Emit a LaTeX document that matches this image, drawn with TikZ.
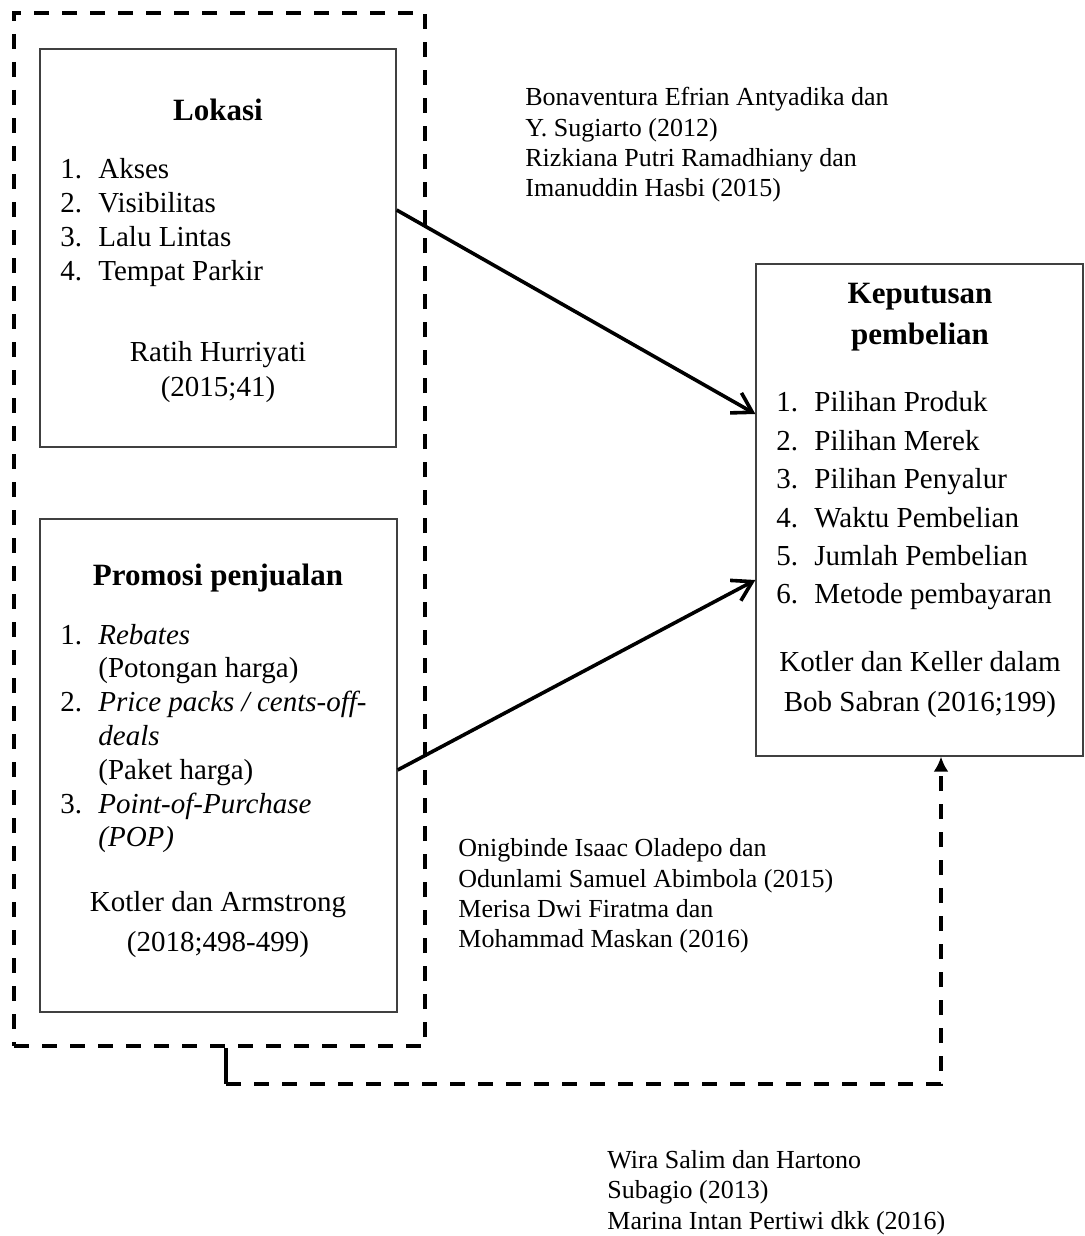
\documentclass[tikz,border=0pt]{standalone}
\usepackage{fontspec}
\setmainfont{Liberation Serif}
\usetikzlibrary{arrows.meta}

\tikzset{
  kotak/.style={draw=black!75, line width=0.65pt, inner sep=0pt},
  garis/.style={-{Straight Barb[length=9.5pt,width=11.5pt]}, line width=1.8pt},
  putus/.style={line width=2pt, dash pattern=on 7.5pt off 6.5pt},
  judul/.style={font=\fontsize{15.5}{20.5}\selectfont\bfseries, align=center, inner sep=0pt},
  isi/.style={font=\fontsize{14.5}{17}\selectfont, align=left, inner sep=0pt, anchor=west},
  sumber/.style={font=\fontsize{14.5}{20}\selectfont, align=center, inner sep=0pt},
  rujukan/.style={font=\fontsize{13}{15.2}\selectfont, align=left, inner sep=0pt, anchor=west}
}
\newcommand{\butir}[1]{\makebox[19pt][l]{#1}}

\begin{document}
\begin{tikzpicture}[x=0.5pt, y=-0.5pt]
    \useasboundingbox (0,0) rectangle (1084,1236);

    \node[kotak, putus, draw=black, minimum width=205.5pt, minimum height=516.5pt] (luar) at (219.5,529.5) {};
    \node[kotak, minimum width=178pt, minimum height=199pt] (lokasi) at (218,248) {};
    \node[kotak, minimum width=178.5pt, minimum height=246.5pt] (promosi) at (218.5,765.5) {};
    \node[kotak, minimum width=163.5pt, minimum height=246pt] (keputusan) at (919.5,510) {};

    \node[judul] (jlokasi) at (218,110) {Lokasi};
    \node[isi] (ilokasi) at (60,223) {\butir{1.}Akses\\\butir{2.}Visibilitas\\\butir{3.}Lalu Lintas\\\butir{4.}Tempat Parkir};
    \node[sumber, font=\fontsize{14.5}{17.5}\selectfont] (slokasi) at (218,372) {Ratih Hurriyati\\(2015;41)};

    \node[judul] (jpromosi) at (218,578) {Promosi penjualan};
    \node[isi, font=\fontsize{14.5}{16.9}\selectfont] (ipromosi) at (60,738.5) {\butir{1.}\textit{Rebates}\\\butir{}(Potongan harga)\\\butir{2.}\textit{Price packs / cents-off-}\\\butir{}\textit{deals}\\\butir{}(Paket harga)\\\butir{3.}\textit{Point-of-Purchase}\\\butir{}\textit{(POP)}};
    \node[sumber] (spromosi) at (218,925) {Kotler dan Armstrong\\(2018;498-499)};

    \node[judul] (jkeputusan) at (920,317) {Keputusan\\pembelian};
    \node[isi, font=\fontsize{14.5}{19.2}\selectfont] (ikeputusan) at (776,501) {\butir{1.}Pilihan Produk\\\butir{2.}Pilihan Merek\\\butir{3.}Pilihan Penyalur\\\butir{4.}Waktu Pembelian\\\butir{5.}Jumlah Pembelian\\\butir{6.}Metode pembayaran};
    \node[sumber] (skeputusan) at (920,685) {Kotler dan Keller dalam\\Bob Sabran (2016;199)};

    \node[rujukan] (rlokasi) at (525,145) {Bonaventura Efrian Antyadika dan\\Y. Sugiarto (2012)\\Rizkiana Putri Ramadhiany dan\\Imanuddin Hasbi (2015)};
    \node[rujukan] (rpromosi) at (458,896) {Onigbinde Isaac Oladepo dan\\Odunlami Samuel Abimbola (2015)\\Merisa Dwi Firatma dan\\Mohammad Maskan (2016)};
    \node[rujukan] (rsimultan) at (607,1192.5) {Wira Salim dan Hartono\\Subagio (2013)\\Marina Intan Pertiwi dkk (2016)};

    \draw[garis] ([yshift=19pt]lokasi.east) -- ([yshift=48pt]keputusan.west);
    \draw[garis] ([yshift=-2.25pt]promosi.east) -- ([yshift=-35pt]keputusan.west);

    \coordinate (pangkal) at ([xshift=3.25pt]luar.south);
    \coordinate (sudut) at (941,1084);
    \draw[line width=2pt] (pangkal) -- (pangkal |- sudut);
    \draw[putus, -{Latex[length=7.5pt,width=7.5pt]}] (pangkal |- sudut) -- (sudut) -- (sudut |- keputusan.south);
\end{tikzpicture}
\end{document}
